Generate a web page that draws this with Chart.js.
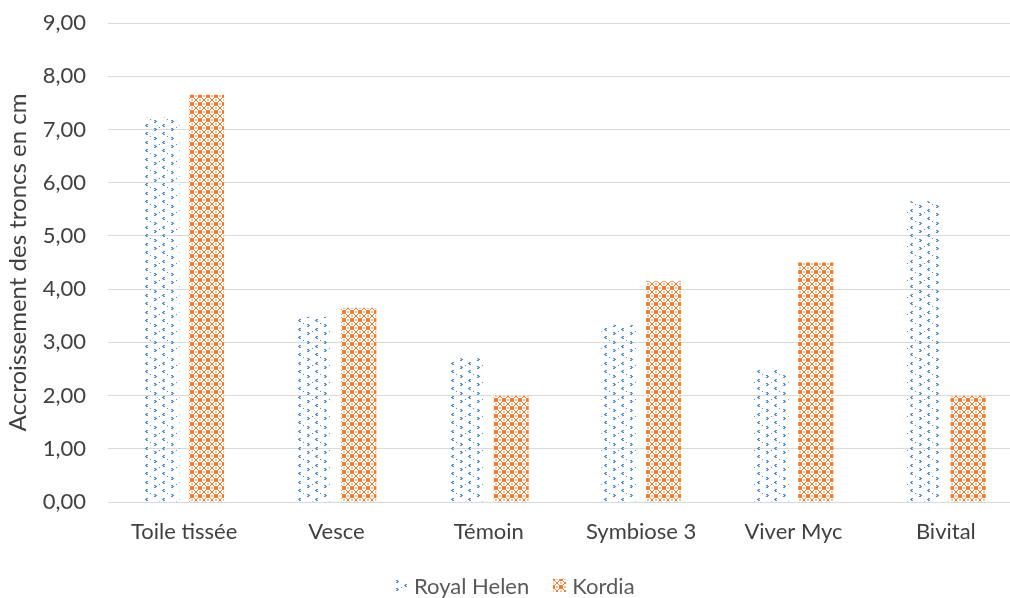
<!DOCTYPE html>
<html><head><meta charset="utf-8">
<script src="https://cdn.jsdelivr.net/npm/chart.js@4"></script>
<style>
html,body{margin:0;padding:0;background:#fff;overflow:hidden;}
#wrap{position:relative;width:1010px;height:598px;overflow:hidden;}
#legend{position:absolute;left:395px;top:571px;height:28px;display:flex;align-items:center;font-family:Lato,sans-serif;font-size:22px;color:#595959;white-space:nowrap;}
#legend canvas{display:block;margin-right:6px;}
#legend .item{display:flex;align-items:center;margin-right:24px;}
</style>
</head><body><div id="wrap"><canvas id="c" width="1022" height="598"></canvas>
<div id="legend"></div></div>
<script>
const categories = ["Toile tissée", "Vesce", "Témoin", "Symbiose 3", "Viver Myc", "Bivital"];
const royalHelen = [7.22, 3.48, 2.70, 3.33, 2.48, 5.65];
const kordia = [7.65, 3.65, 2.00, 4.15, 4.50, 2.00];
const seriesNames = ["Royal Helen", "Kordia"];
const yTitle = "Accroissement des troncs en cm";

function blueTile() {
  const s = 17, cv = document.createElement('canvas');
  cv.width = s; cv.height = s;
  const g = cv.getContext('2d');
  g.fillStyle = '#4f91d6';
  const gt = (x, y) => { g.fillRect(x, y, 2, 1); g.fillRect(x+1, y+1, 2, 1); g.fillRect(x, y+2, 2, 1); };
  const lt = (x, y) => { g.fillRect(x+1, y, 2, 1); g.fillRect(x, y+1, 2, 1); g.fillRect(x+1, y+2, 2, 1); };
  gt(1, 1); lt(9, 5); gt(1, 9); lt(9, 13);
  g.fillRect(6, 8, 1, 1); g.fillRect(14, 0, 1, 1);
  return cv;
}
function orangeTile() {
  const s = 8, cv = document.createElement('canvas');
  cv.width = s; cv.height = s;
  const g = cv.getContext('2d');
  g.fillStyle = '#ffffff'; g.fillRect(0,0,s,s);
  g.fillStyle = '#ed7d31';
  const pts = [[0,0],[1,1],[2,2],[3,3],[4,4],[5,5],[6,6],[7,7],[7,0],[6,1],[5,2],[4,3],[3,4],[2,5],[1,6],[0,7],
               [1,0],[0,1],[6,0],[7,1],[0,6],[1,7],[7,6],[6,7]];
  pts.forEach(([x,y]) => g.fillRect(x,y,1,1));
  g.fillStyle = 'rgba(237,125,49,0.5)';
  [[3,0],[4,0],[0,3],[0,4],[7,3],[7,4],[3,7],[4,7]].forEach(([x,y]) => g.fillRect(x,y,1,1));
  return cv;
}
const tiles = [blueTile(), orangeTile()];
const ctx0 = document.createElement('canvas').getContext('2d');
const patterns = tiles.map(t => ctx0.createPattern(t, 'repeat'));

// HTML legend
const legendEl = document.getElementById('legend');
seriesNames.forEach((name, i) => {
  const item = document.createElement('div'); item.className = 'item';
  const m = document.createElement('canvas'); m.width = 13; m.height = 13;
  const mg = m.getContext('2d'); mg.fillStyle = mg.createPattern(tiles[i], 'repeat'); mg.fillRect(0, 0, 13, 13);
  const t = document.createElement('span'); t.textContent = name;
  item.appendChild(m); item.appendChild(t); legendEl.appendChild(item);
});

const FONT = 'Lato';
new Chart(document.getElementById('c'), {
  type: 'bar',
  data: {
    labels: categories,
    datasets: [
      { label: seriesNames[0], data: royalHelen, backgroundColor: patterns[0], borderWidth: 0 },
      { label: seriesNames[1], data: kordia, backgroundColor: patterns[1], borderWidth: 0 }
    ]
  },
  options: {
    responsive: false,
    animation: false,
    layout: { padding: { left: 2, right: 0, top: 23, bottom: 52 } },
    datasets: { bar: { categoryPercentage: 0.585, barPercentage: 0.79 } },
    plugins: {
      legend: { display: false },
      tooltip: { enabled: false }
    },
    scales: {
      x: {
        grid: { display: false, drawTicks: false },
        border: { color: '#d9d9d9', width: 1 },
        afterFit: s => { s.height = 44; },
        ticks: { font: { family: FONT, size: 22 }, color: '#404040', padding: 17 }
      },
      y: {
        min: 0, max: 9,
        grid: { color: '#d9d9d9', drawTicks: false },
        border: { display: false },
        afterFit: s => { s.width = 106; s.paddingTop = 0; s.paddingBottom = 0; },
        ticks: { stepSize: 1, font: { family: FONT, size: 22 }, color: '#404040', padding: 22,
          callback: v => v.toFixed(2).replace('.', ',') },
        title: { display: true, text: yTitle, font: { family: FONT, size: 24 }, color: '#404040', padding: { top: 2, bottom: 4 } }
      }
    }
  }
});
</script></body></html>
